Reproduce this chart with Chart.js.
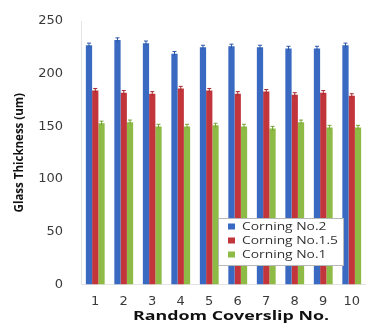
<!DOCTYPE html>
<html>
<head>
<meta charset="utf-8">
<script src="https://cdn.jsdelivr.net/npm/chart.js@4"></script>
<style>
  html, body { margin: 0; padding: 0; background: #fff; }
  #wrap { width: 366px; height: 323px; }
</style>
</head>
<body>
<div id="wrap"><canvas id="c" width="366" height="323"></canvas></div>
<script>
// Coverslip numbers along the x axis
const coverslips = ['1', '2', '3', '4', '5', '6', '7', '8', '9', '10'];

// Measured thickness (um) per coverslip for each Corning grade
const corningNo2  = [227, 232, 229, 219, 225, 226, 225, 224, 224, 227];
const corningNo15 = [184, 182, 181, 186, 184, 181, 183, 180, 182, 179];
const corningNo1  = [153, 154, 150, 150, 151, 150, 148, 154, 149, 149];

// Measurement spread (um) shown as small error caps
const errNo2  = [2, 2, 2, 2, 2, 2, 2, 2, 2, 2];
const errNo15 = [2, 2, 2, 2, 2, 2, 2, 2, 2, 2];
const errNo1  = [2, 2, 2, 2, 2, 2, 2, 2, 2, 2];

const seriesNames = ['Corning No.2', 'Corning No.1.5', 'Corning No.1'];
const yTicks = [0, 50, 100, 150, 200, 250];
const xTitle = 'Random Coverslip No.';
const yTitle = 'Glass Thickness (um)';

const fills = ['#3a69c2', '#c2363b', '#8dbb45'];
const edges = ['#2b55a8', '#a52a2f', '#76a233'];

// Draw text squeezed or widened horizontally to a given width
function drawWide(ctx, text, x, y, width, align) {
  const w = ctx.measureText(text).width;
  const sx = width / w;
  ctx.save();
  ctx.translate(x, y);
  ctx.scale(sx, 1);
  ctx.textAlign = align;
  ctx.fillText(text, 0, 0);
  ctx.restore();
}

// Small T-shaped error caps on top of each bar
const errorCaps = {
  id: 'errorCaps',
  afterDatasetsDraw(chart) {
    const { ctx } = chart;
    const y = chart.scales.y;
    chart.data.datasets.forEach((ds, i) => {
      const meta = chart.getDatasetMeta(i);
      meta.data.forEach((bar, j) => {
        const v = ds.data[j], e = ds.errors[j];
        const yTop = y.getPixelForValue(v + e);
        const yBot = y.getPixelForValue(v - e);
        ctx.save();
        ctx.strokeStyle = edges[i];
        ctx.lineWidth = 1;
        ctx.beginPath();
        ctx.moveTo(bar.x, yTop); ctx.lineTo(bar.x, yBot);
        ctx.moveTo(bar.x - 2, yTop); ctx.lineTo(bar.x + 2, yTop);
        ctx.stroke();
        ctx.restore();
      });
    });
  }
};

// Axis title under the x labels, plus boxed legend inside the plot
const overlay = {
  id: 'overlay',
  afterDraw(chart) {
    const { ctx } = chart;
    ctx.save();
    ctx.fillStyle = '#111111';
    ctx.font = 'bold 12px "Open Sans", sans-serif';
    ctx.textBaseline = 'middle';
    drawWide(ctx, xTitle, 231, 317, 196, 'center');

    const x0 = 218.5, y0 = 218.5, w = 125, h = 47;
    ctx.fillStyle = '#ffffff';
    ctx.fillRect(x0, y0, w, h);
    ctx.strokeStyle = '#b8b8b8';
    ctx.lineWidth = 1;
    ctx.strokeRect(x0, y0, w, h);
    ctx.font = '11px "Open Sans", sans-serif';
    chart.data.datasets.forEach((ds, i) => {
      const cy = 226.5 + i * 14;
      ctx.fillStyle = fills[i];
      ctx.fillRect(228, cy - 3, 7, 6);
      ctx.fillStyle = '#333333';
      const ref = ctx.measureText('Corning No.1.5').width;
      const wide = ctx.measureText(ds.label).width * 96 / ref;
      drawWide(ctx, ds.label, 242, cy + 0.5, wide, 'left');
    });
    ctx.restore();
  }
};

new Chart(document.getElementById('c'), {
  type: 'bar',
  data: {
    labels: coverslips,
    datasets: [
      { label: seriesNames[0], data: corningNo2,  errors: errNo2,  backgroundColor: fills[0], borderWidth: 0 },
      { label: seriesNames[1], data: corningNo15, errors: errNo15, backgroundColor: fills[1], borderWidth: 0 },
      { label: seriesNames[2], data: corningNo1,  errors: errNo1,  backgroundColor: fills[2], borderWidth: 0 }
    ]
  },
  plugins: [errorCaps, overlay],
  options: {
    responsive: false,
    animation: false,
    devicePixelRatio: 1,
    layout: { padding: { left: 0, right: 0, top: 21, bottom: 14 } },
    datasets: { bar: { categoryPercentage: 0.66, barPercentage: 1.0 } },
    plugins: { legend: { display: false }, tooltip: { enabled: false } },
    scales: {
      x: {
        afterFit(scale) { scale.height = 24.5; scale.paddingLeft = 0; scale.paddingRight = 0; },
        grid: { display: false, drawTicks: false },
        border: { display: true, color: '#e4e4e4' },
        ticks: { color: '#3a3a3a', font: { family: 'DejaVu Sans', size: 13 }, padding: 9 }
      },
      y: {
        min: 0, max: 250,
        afterBuildTicks(scale) { scale.ticks = yTicks.map(v => ({ value: v })); },
        afterFit(scale) { scale.width = 81; scale.paddingTop = 8; scale.paddingBottom = 8; },
        grid: { display: false, drawTicks: false },
        border: { display: true, color: '#e4e4e4' },
        ticks: { color: '#3a3a3a', font: { family: 'DejaVu Sans', size: 13 }, padding: 18 },
        title: { display: true, text: yTitle, color: '#111',
                 font: { family: 'Open Sans', size: 11.5, weight: 'bold' }, padding: { top: 13, bottom: 0 } }
      }
    }
  }
});
</script>
</body>
</html>
